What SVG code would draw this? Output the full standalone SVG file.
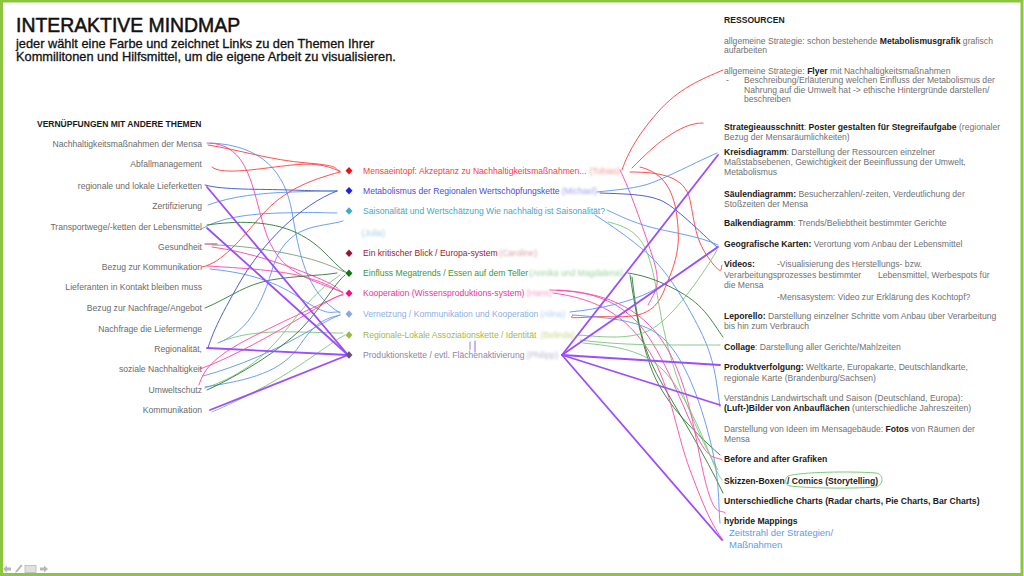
<svg xmlns="http://www.w3.org/2000/svg" width="1024" height="576" viewBox="0 0 1024 576">
<defs>
<style>
.t{font-family:"Liberation Sans",Arial,Helvetica,sans-serif}
.l{font-size:8.6px;fill:#6a6a6a;text-anchor:end}
.m{font-size:8.6px}
.r{font-size:8.6px;fill:#707070}
.b{font-weight:bold;fill:#1a1a1a}
.nm{font-size:8.6px;text-anchor:end;filter:url(#blur)}
.c{fill:none;stroke-linecap:round;stroke-linejoin:round;stroke-width:1;opacity:.9}
.red{stroke:#ff3c3c}.blu{stroke:#5b95ee}.dbl{stroke:#3c50c8}.grn{stroke:#7cc47c}.dgr{stroke:#2f7a34}.pnk{stroke:#ff45a8}.pur{stroke:#9b4dff;stroke-width:1.8;opacity:1}
</style>
<filter id="blur" x="-10%" y="-50%" width="120%" height="200%"><feGaussianBlur stdDeviation="1.2"/></filter>
</defs>
<rect x="0" y="0" width="1024" height="576" fill="#ffffff"/>
<rect x="1.5" y="1" width="1020.5" height="573.5" fill="none" stroke="#8cc63f" stroke-width="3"/>

<g id="title" class="t">
<text x="16" y="31.7" font-size="19.4" fill="#111" stroke="#111" stroke-width="0.5">INTERAKTIVE MINDMAP</text>
<text x="16" y="47.5" font-size="12.8" fill="#111" stroke="#111" stroke-width="0.3">jeder wählt eine Farbe und zeichnet Links zu den Themen Ihrer</text>
<text x="16" y="61" font-size="12.8" fill="#111" stroke="#111" stroke-width="0.3">Kommilitonen und Hilfsmittel, um die eigene Arbeit zu visualisieren.</text>
</g>

<g id="connectors">
<!-- left side -->
<path class="c pnk" d="M207,143 C250,143 252,190 265,230 S300,276 342,292"/>
<path class="c red" d="M208,145 C240,150 270,160 307,163 S333,169 340,172"/>
<path class="c blu" d="M210,143 C262,145 285,172 292,212 S305,292 340,313"/>
<path class="c red" d="M212,167 C222,176 262,168 292,165 S330,168 340,171"/>
<path class="c dbl" d="M205,185 C222,190 260,189 290,190 S325,191 337,191"/>
<path class="c blu" d="M208,205 C232,196 262,193 292,192 S325,191 337,191"/>
<path class="c blu" d="M200,230 C215,220 240,214 280,213 S325,213 337,213"/>
<path class="c dgr" d="M207,225 C235,221 270,220 297,233 S330,262 347,273"/>
<path class="c" stroke="#b01860" stroke-width="1.4" d="M205,244 L217,244"/>
<path class="c" stroke="#7aa07a" d="M212,245 C250,245 300,255 320,262 S338,270 345,272"/>
<path class="c pnk" d="M212,247 C250,252 290,266 318,278 S336,290 343,293"/>
<path class="c red" d="M202,267 C222,263 240,240 262,215 S310,180 340,172"/>
<path class="c pnk" d="M207,266 C240,268 280,270 305,277 S335,290 343,292"/>
<path class="c blu" d="M210,269 C240,272 270,278 300,298 S330,311 340,312"/>
<path class="c dgr" d="M205,308 C225,300 240,288 262,282 S320,276 337,273"/>
<path class="c dbl" d="M208,348 C212,335 218,320 240,282 S300,205 337,191"/>
<path class="c blu" d="M218,343 C240,334 258,318 272,270 S320,228 343,221"/>
<path class="c grn" d="M220,342 C240,334 262,331 300,332 S330,333 343,333"/>
<path class="c pnk" d="M200,369 C225,360 260,342 300,318 S335,297 343,295"/>
<path class="c pnk" d="M199,385 C204,368 215,355 260,333 S330,300 343,294"/>
<path class="c blu" d="M203,376 C240,366 275,350 300,336 S332,318 340,315"/>
<path class="c grn" d="M205,388 C235,378 262,362 290,325 S330,283 340,275"/>
<path class="c blu" d="M205,387 C250,380 282,372 300,345 S330,318 340,315"/>
<path class="c dgr" d="M207,390 C240,375 280,350 300,330 S335,283 345,275"/>
<path class="c grn" d="M212,412 C240,400 270,385 300,365 S335,340 345,335"/>
<path class="c pur" d="M207,187 L348,355"/>
<path class="c pur" d="M207,228 L348,355"/>
<path class="c pur" d="M207,348 L348,355"/>
<path class="c pur" d="M210,410 L348,355"/>
<!-- small marks -->
<path class="c" stroke="#8a80a8" d="M470,342 L470,350"/>
<path class="c" stroke="#9b4dff" stroke-width="1.2" d="M475,341 L475,352"/>
<!-- right side -->
<path class="c red" d="M622,170 C626,158 635,138 657,113 S700,80 723,70"/>
<path class="c red" d="M632,168 C645,155 655,145 667,137 S690,123 703,123"/>
<path class="c red" d="M640,167 C660,172 673,185 677,217 S676,262 663,293 S620,315 590,317 S576,316 573,315"/>
<path class="c red" d="M630,172 C660,172 685,176 690,200 S695,240 710,260 S720,265 722,265"/>
<path class="c pnk" d="M620,170 C630,190 642,225 652,255 S656,290 648,305"/>
<path class="c blu" d="M597,192 C615,190 630,189 645,185 S690,165 717,153"/>
<path class="c dbl" d="M600,193 C625,194 645,194 660,200 S700,232 717,247"/>
<path class="c blu" d="M607,210 C620,216 632,222 650,227 S700,236 718,245"/>
<path class="c blu" d="M595,215 C612,226 630,238 648,254 S685,300 700,330 S716,380 720,407"/>
<path class="c grn" d="M608,222 C625,226 640,232 648,255 S657,300 665,335 S690,420 718,470"/>
<path class="c dgr" d="M628,273 C640,275 655,278 680,292 S712,322 723,337"/>
<path class="c dgr" d="M630,275 C634,300 638,330 650,365 S690,428 720,455"/>
<path class="c dgr" d="M632,277 C636,310 640,345 660,380 S705,455 723,493"/>
<path class="c pnk" d="M550,290 C580,291 610,295 635,320 S680,400 695,432 S715,455 722,460"/>
<path class="c pnk" d="M553,293 C590,298 620,310 645,345 S675,430 690,470 S712,525 723,540"/>
<path class="c pnk" d="M557,290 C600,292 640,305 665,345 S695,440 705,480 S720,508 725,513"/>
<path class="c blu" d="M570,312 C600,309 630,302 650,292 S700,258 717,247"/>
<path class="c blu" d="M573,315 C610,318 645,320 665,340 S700,400 710,440 S718,500 720,523"/>
<path class="c grn" d="M578,335 C605,337 630,340 650,330 S700,280 717,250"/>
<path class="c grn" d="M580,340 C610,344 640,345 680,345 S712,345 720,345"/>
<path class="c grn" d="M583,343 C615,346 645,350 665,372 S700,430 710,455 S720,476 722,480"/>
<path class="c pur" d="M562,355 L718,155"/>
<path class="c pur" d="M562,355 L718,247"/>
<path class="c pur" d="M562,355 L720,365"/>
<path class="c pur" d="M562,355 L720,405"/>
<path class="c pur" d="M562,355 L722,540"/>
<path fill="none" stroke="#6cc46c" stroke-width="0.9" d="M788,476 C800,472 850,471 876,473 C884,474 884,485 876,487 C850,489 805,488 790,486 C784,485 785,478 788,476 Z"/>
</g>

<g id="left-list" class="t">
<text x="37" y="127" font-size="8.5" font-weight="bold" fill="#1a1a1a">VERNÜPFUNGEN MIT ANDERE THEMEN</text>
<text class="l" x="202" y="147">Nachhaltigkeitsmaßnahmen der Mensa</text>
<text class="l" x="202" y="167">Abfallmanagement</text>
<text class="l" x="202" y="188.5">regionale und lokale Lieferketten</text>
<text class="l" x="202" y="208.5">Zertifizierung</text>
<text class="l" x="202" y="229.5">Transportwege/-ketten der Lebensmittel</text>
<text class="l" x="202" y="249.5">Gesundheit</text>
<text class="l" x="202" y="269.5">Bezug zur Kommunikation</text>
<text class="l" x="202" y="290">Lieferanten in Kontakt bleiben muss</text>
<text class="l" x="202" y="310.5">Bezug zur Nachfrage/Angebot</text>
<text class="l" x="202" y="332">Nachfrage die Liefermenge</text>
<text class="l" x="202" y="352">Regionalität,</text>
<text class="l" x="202" y="372">soziale Nachhaltigkeit</text>
<text class="l" x="202" y="393">Umweltschutz</text>
<text class="l" x="202" y="413">Kommunikation</text>
</g>

<g id="topics" class="t">
<g id="topic-mensaeintopf"><path d="M349,167 l3.5,3.7 l-3.5,3.7 l-3.5,-3.7 z" fill="#ee1111"/><text class="m" x="363" y="173.7" fill="#ff3b3b">Mensaeintopf: Akzeptanz zu Nachhaltigkeitsmaßnahmen...</text><text class="nm" x="620" y="173.7" fill="#f59a9a">(Tobias)</text></g>
<g id="topic-metabolismus"><path d="M349,187 l3.5,3.7 l-3.5,3.7 l-3.5,-3.7 z" fill="#2222dd"/><text class="m" x="363" y="193.7" fill="#4b4bdc">Metabolismus der Regionalen Wertschöpfungskette</text><text class="nm" x="597" y="193.7" fill="#a0a0f0">(Michael)</text></g>
<g id="topic-saisonalitaet"><path d="M349,207.3 l3.5,3.7 l-3.5,3.7 l-3.5,-3.7 z" fill="#44aacc"/><text class="m" x="363" y="214" fill="#48a6c4">Saisonalität und Wertschätzung Wie nachhaltig ist Saisonalität?</text><text class="nm" x="385" y="235.7" fill="#a8cce4">(Julia)</text></g>
<g id="topic-kritischer-blick"><path d="M349,249.6 l3.5,3.7 l-3.5,3.7 l-3.5,-3.7 z" fill="#991133"/><text class="m" x="363" y="256.3" fill="#9b1b30">Ein kritischer Blick / Europa-system</text><text class="nm" x="537" y="256.3" fill="#d8a0aa">(Caroline)</text></g>
<g id="topic-megatrends"><path d="M349,269.6 l3.5,3.7 l-3.5,3.7 l-3.5,-3.7 z" fill="#117711"/><text class="m" x="363" y="276.3" fill="#359a3a">Einfluss Megatrends / Essen auf dem Teller</text><text class="nm" x="623" y="276.3" fill="#9ed09e">(Annika und Magdalena)</text></g>
<g id="topic-kooperation"><path d="M349,289.6 l3.5,3.7 l-3.5,3.7 l-3.5,-3.7 z" fill="#ee1188"/><text class="m" x="363" y="296.3" fill="#f0329a">Kooperation (Wissensproduktions-system)</text><text class="nm" x="552" y="296.3" fill="#f5a0cc">(Hans)</text></g>
<g id="topic-vernetzung"><path d="M349,310.3 l3.5,3.7 l-3.5,3.7 l-3.5,-3.7 z" fill="#88aadd"/><text class="m" x="363" y="317" fill="#8ab0e8">Vernetzung / Kommunikation und Kooperation</text><text class="nm" x="565" y="317" fill="#b4ccf0">(Alina)</text></g>
<g id="topic-regionale-lokale"><path d="M349,331.3 l3.5,3.7 l-3.5,3.7 l-3.5,-3.7 z" fill="#99bb44"/><text class="m" x="363" y="338" fill="#a0b84a">Regionale-Lokale Assoziationskette  / Identität</text><text class="nm" x="575" y="338" fill="#c8d890">(Belinda)</text></g>
<g id="topic-produktionskette"><path d="M349,351.3 l3.5,3.7 l-3.5,3.7 l-3.5,-3.7 z" fill="#665577"/><text class="m" x="363" y="358" fill="#8c84a8">Produktionskette / evtl. Flächenaktivierung</text><text class="nm" x="558" y="358" fill="#c0b8d4">(Philipp)</text></g>
</g>

<g id="resources" class="t">
<text x="724" y="23" font-size="8.6" font-weight="bold" fill="#1a1a1a">RESSOURCEN</text>
<g id="res-metabolismusgrafik"><text class="r" x="724" y="43.7">allgemeine Strategie: schon bestehende <tspan class="b">Metabolismusgrafik</tspan> grafisch</text><text class="r" x="724" y="53.3">aufarbeiten</text></g>
<g id="res-flyer"><text class="r" x="724" y="73.7">allgemeine Strategie: <tspan class="b">Flyer</tspan> mit Nachhaltigkeitsmaßnahmen</text><text class="r" x="726" y="83">-</text><text class="r" x="744" y="83">Beschreibung/Erläuterung welchen Einfluss der Metabolismus der</text><text class="r" x="744" y="92.5">Nahrung auf die Umwelt hat -&gt; ethische Hintergründe darstellen/</text><text class="r" x="744" y="102">beschreiben</text></g>
<g id="res-poster"><text class="r" x="724" y="129.7"><tspan class="b">Strategieausschnitt</tspan>: <tspan class="b">Poster gestalten für Stegreifaufgabe</tspan> (regionaler</text><text class="r" x="724" y="139.7">Bezug der Mensaräumlichkeiten)</text></g>
<g id="res-kreisdiagramm"><text class="r" x="724" y="154.7"><tspan class="b">Kreisdiagramm</tspan>: Darstellung der Ressourcen einzelner</text><text class="r" x="724" y="164.7">Maßstabsebenen, Gewichtigkeit der Beeinflussung der Umwelt,</text><text class="r" x="724" y="174.7">Metabolismus</text></g>
<g id="res-saeulendiagramm"><text class="r" x="724" y="196.7"><tspan class="b">Säulendiagramm:</tspan> Besucherzahlen/-zeiten, Verdeutlichung der</text><text class="r" x="724" y="206.5">Stoßzeiten der Mensa</text></g>
<g id="res-balkendiagramm"><text class="r" x="724" y="226.3"><tspan class="b">Balkendiagramm</tspan>: Trends/Beliebtheit bestimmter Gerichte</text></g>
<g id="res-karten"><text class="r" x="724" y="247"><tspan class="b">Geografische Karten:</tspan> Verortung vom Anbau der Lebensmittel</text></g>
<g id="res-videos"><text class="r b" x="724" y="267">Videos:</text><text class="r" x="777" y="267">-Visualisierung des Herstellungs- bzw.</text><text class="r" x="724" y="278">Verarbeitungsprozesses bestimmter</text><text class="r" x="878" y="278">Lebensmittel, Werbespots für</text><text class="r" x="724" y="288">die Mensa</text><text class="r" x="777" y="299.7">-Mensasystem: Video zur Erklärung des Kochtopf?</text></g>
<g id="res-leporello"><text class="r" x="724" y="318.7"><tspan class="b">Leporello:</tspan> Darstellung einzelner Schritte vom Anbau über Verarbeitung</text><text class="r" x="724" y="328.7">bis hin zum Verbrauch</text></g>
<g id="res-collage"><text class="r" x="724" y="350.3"><tspan class="b">Collage</tspan>: Darstellung aller Gerichte/Mahlzeiten</text></g>
<g id="res-produktverfolgung"><text class="r" x="724" y="370.3"><tspan class="b">Produktverfolgung:</tspan> Weltkarte, Europakarte, Deutschlandkarte,</text><text class="r" x="724" y="380.7">regionale Karte (Brandenburg/Sachsen)</text></g>
<g id="res-luftbilder"><text class="r" x="724" y="401.3">Verständnis Landwirtschaft und Saison (Deutschland, Europa):</text><text class="r" x="724" y="411.3"><tspan class="b">(Luft-)Bilder von Anbauflächen</tspan> (unterschiedliche Jahreszeiten)</text></g>
<g id="res-fotos"><text class="r" x="724" y="432">Darstellung von Ideen im Mensagebäude: <tspan class="b">Fotos</tspan> von Räumen der</text><text class="r" x="724" y="442">Mensa</text></g>
<g id="res-before-after"><text class="r b" x="724" y="462">Before and after Grafiken</text></g>
<g id="res-skizzen"><text class="r b" x="724" y="483.7">Skizzen-Boxen / Comics (Storytelling)</text></g>
<g id="res-charts"><text class="r b" x="724" y="503.7">Unterschiedliche Charts (Radar charts, Pie Charts, Bar Charts)</text></g>
<g id="res-hybride"><text class="r b" x="724" y="523.7">hybride Mappings</text><text x="729" y="535.7" font-size="9.5" fill="#5a9cf0">Zeitstrahl der Strategien/</text><text x="729" y="547.5" font-size="9.5" fill="#5a9cf0">Maßnahmen</text></g>
</g>

<g id="nav" fill="#b8b8b8">
<path d="M3,569 l4,-3.5 v2 h4 v3 h-4 v2 z"/>
<path d="M15,573 l1,-2.5 l5,-6 l1.5,1.2 l-5,6 z"/>
<rect x="25" y="565.5" width="11" height="7" fill="#e0e0e0" stroke="#b8b8b8" stroke-width="0.8"/>
<path d="M48,569 l-4,-3.5 v2 h-4 v3 h4 v2 z"/>
</g>
</svg>
